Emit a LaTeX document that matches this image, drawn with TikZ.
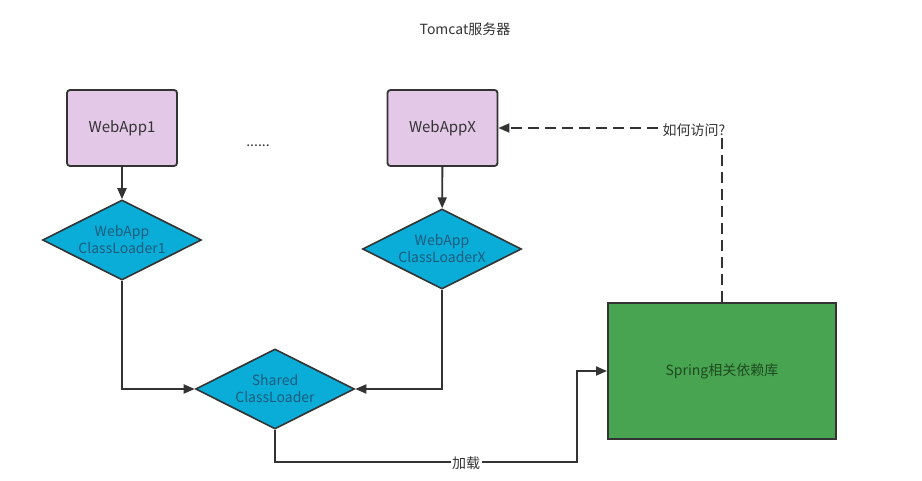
\documentclass[tikz,border=0pt]{standalone}
\usepackage{fontspec}
\setmainfont{Noto Sans CJK SC}
\usetikzlibrary{shapes.geometric,arrows.meta}
\definecolor{lineC}{HTML}{333333}
\definecolor{appFill}{HTML}{E3C8E8}
\definecolor{loaderFill}{HTML}{0AADD8}
\definecolor{loaderText}{HTML}{1A5C7C}
\definecolor{springFill}{HTML}{48A450}
\definecolor{springText}{HTML}{1E4A22}
\tikzset{
  x=1pt,y=-1pt,
  every node/.style={font=\fontsize{14}{16}\selectfont, text=lineC},
  appbox/.style={draw=lineC, line width=1.8pt, fill=appFill, rounded corners=3pt,
    minimum width=110pt, minimum height=76pt, inner sep=0pt, font=\fontsize{15}{17}\selectfont},
  loader/.style={diamond, draw=lineC, line width=1.6pt, fill=loaderFill,
    minimum width=159pt, minimum height=80pt, inner sep=0pt, aspect=2,
    text=loaderText, align=center, font=\fontsize{14}{17}\selectfont},
  springbox/.style={draw=lineC, line width=2pt, fill=springFill,
    minimum width=228pt, minimum height=136pt, inner sep=0pt, text=springText},
  conn/.style={draw=lineC, line width=1.9pt, -{Triangle[length=11pt,width=9pt]}},
  dconn/.style={conn, dash pattern=on 11pt off 6pt},
  elabel/.style={fill=white, inner sep=1.5pt}
}
\begin{document}
\begin{tikzpicture}
\useasboundingbox (0,0) rectangle (922,481);
\node (title) at (465,29) {Tomcat服务器};
\node (dots) at (258,146) {......};
\node[appbox] (app1) at (122,128) {WebApp1};
\node[appbox] (appx) at (442.5,128) {WebAppX};
\node[loader] (cl1) at (122,240) {WebApp\\ClassLoader1};
\node[loader] (clx) at (442,249) {WebApp\\ClassLoaderX};
\node[loader] (shared) at (275,389) {Shared\\ClassLoader};
\node[springbox] (spring) at (722,371) {Spring相关依赖库};
\coordinate (c1) at (122,389);
\coordinate (cx) at (442,389);
\coordinate (s1) at (275,462);
\coordinate (s2) at (577,462);
\coordinate (s3) at (577,371);
\coordinate (d1) at (722,128);
\draw[conn] (app1) -- (cl1);
\draw[conn] (appx) -- (clx);
\draw[conn] (cl1.south) -- (c1) -- (shared.west);
\draw[conn] (clx.south) -- (cx) -- (shared.east);
\draw[conn] (shared.south) -- (s1) -- (s2) -- (s3) -- (spring.west);
\node[elabel] (load) at (466,463) {加载};
\draw[dconn] (spring.north) -- (d1) -- (appx.east);
\node[elabel] (how) at (694,130) {如何访问?};
\end{tikzpicture}
\end{document}
